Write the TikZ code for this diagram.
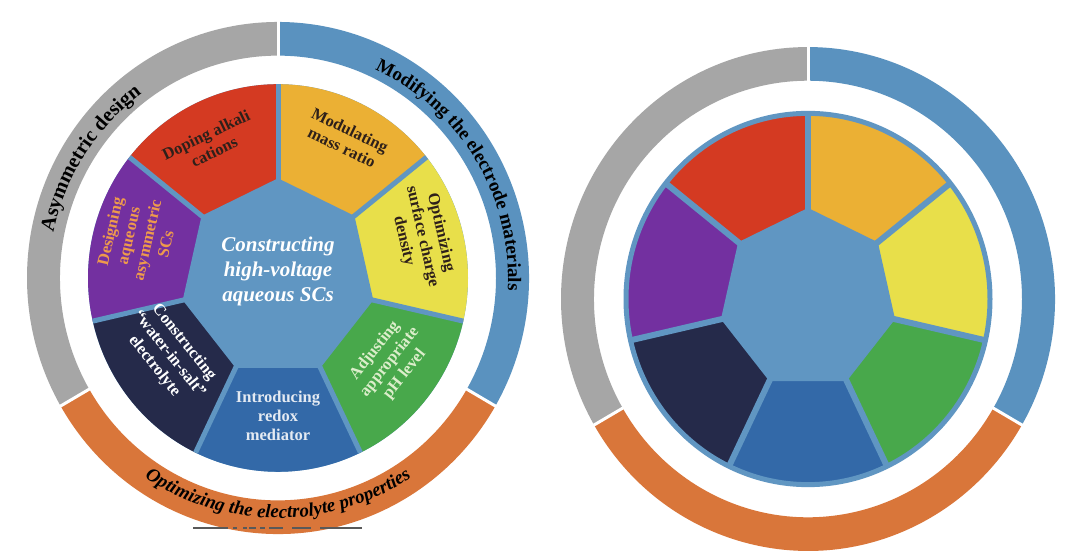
\documentclass[tikz,border=0pt]{standalone}
\usepackage{fontspec}
\setmainfont{Liberation Serif}
\usetikzlibrary{decorations.text}
\definecolor{ringgray}{HTML}{A6A6A6}
\definecolor{ringblue}{HTML}{5A92BF}
\definecolor{ringorange}{HTML}{D9763A}
\definecolor{hept}{HTML}{6096C2}
\definecolor{segred}{HTML}{D43A22}
\definecolor{segorange}{HTML}{EBB034}
\definecolor{segyellow}{HTML}{E8DF4A}
\definecolor{seggreen}{HTML}{48A84B}
\definecolor{segblue}{HTML}{3369A8}
\definecolor{segnavy}{HTML}{252A4A}
\definecolor{segpurple}{HTML}{7330A0}
\definecolor{txtdark}{HTML}{2E201A}
\definecolor{txtpale}{HTML}{E4EAF2}
\definecolor{txtgreen}{HTML}{DCEECB}
\definecolor{txtorange}{HTML}{EE9A4C}
\newcommand{\ringfont}{\fontsize{19}{19}\selectfont\bfseries}
\newcommand{\ringfontbig}{\fontsize{20.5}{20.5}\selectfont\bfseries}
\newcommand{\wheelshapes}[5]{%
  \pgfmathsetmacro\wRo{#1}\pgfmathsetmacro\wRi{#2}%
  \pgfmathsetmacro\wRd{#3}\pgfmathsetmacro\wRh{#4}%
  \pgfmathsetmacro\wRoo{#1+2}\pgfmathsetmacro\wRii{#2-2}%
  \fill[ringgray] (90:\wRo) arc[start angle=90,end angle=210,radius=\wRo] -- (210:\wRi) arc[start angle=210,end angle=90,radius=\wRi] -- cycle;
  \fill[ringorange] (210:\wRo) arc[start angle=210,end angle=330,radius=\wRo] -- (330:\wRi) arc[start angle=330,end angle=210,radius=\wRi] -- cycle;
  \fill[ringblue] (330:\wRo) arc[start angle=330,end angle=450,radius=\wRo] -- (450:\wRi) arc[start angle=450,end angle=330,radius=\wRi] -- cycle;
  \foreach \a in {90,210,330} \draw[white, line width=3] (\a:\wRii) -- (\a:\wRoo);
  \fill[hept] (0,0) circle[radius=\wRd];
  \foreach \k/\c in {0/segred,1/segpurple,2/segnavy,3/segblue,4/seggreen,5/segyellow,6/segorange}{
    \pgfmathsetmacro\aa{90+\k*360/7}
    \pgfmathsetmacro\ab{90+(\k+1)*360/7}
    \fill[\c] (\aa:\wRh) -- (\aa:\wRd) arc[start angle=\aa, end angle=\ab, radius=\wRd] -- (\ab:\wRh) -- cycle;
  }
  \foreach \k in {0,...,6}{
    \pgfmathsetmacro\aa{90+\k*360/7}
    \draw[hept, line width=#5] (\aa:\wRh) -- (\aa:\wRd);
  }
  \filldraw[fill=hept, draw=hept, line width=#5, line join=miter]
    (90:\wRh) -- ({90+360/7}:\wRh) -- ({90+2*360/7}:\wRh) -- ({90+3*360/7}:\wRh)
    -- ({90+4*360/7}:\wRh) -- ({90+5*360/7}:\wRh) -- ({90+6*360/7}:\wRh) -- cycle;
}
\tikzset{
  segtext/.style={align=center, inner sep=0pt, font=\fontsize{16.5}{19}\selectfont\bfseries},
  centertext/.style={align=center, inner sep=0pt, text=white, font=\fontsize{21}{25}\selectfont\bfseries\itshape},
  dashfrag/.style={draw=black!65, line width=1.1}
}
\begin{document}
\begin{tikzpicture}[x=1pt,y=1pt]
\useasboundingbox (0,0) rectangle (1080,559);
\fill[white] (0,0) rectangle (1080,559);
% left wheel
\begin{scope}[shift={(278,281)}, yscale=1.02]
  \wheelshapes{251}{218}{190}{95}{5}
\end{scope}
% right wheel
\begin{scope}[shift={(808,260)}, yscale=1.02]
  \wheelshapes{247}{214}{182}{86}{6}
  \draw[hept, line width=5] (0,0) circle[radius=182];
\end{scope}
% left texts
\begin{scope}[shift={(278,281)}]
  \node[centertext] (core) at (0,7) {Constructing\\high-voltage\\aqueous SCs};
  \node[segtext, text=txtdark, rotate=25.7] (tred) at (116.7:151) {Doping alkali\\cations};
  \node[segtext, text=txtdark, rotate=-25.7] (torange) at (64:155) {Modulating\\mass ratio};
  \node[segtext, text=txtdark, rotate=-77.1] (tyellow) at (16:150) {Optimizing\\surface charge\\density};
  \node[segtext, text=txtgreen, rotate=51.4] (tgreen) at (-37:140) {Adjusting\\appropriate\\pH level};
  \node[segtext, text=txtpale] (tblue) at (-90:138) {Introducing\\redox\\mediator};
  \node[segtext, text=white, rotate=-51.4] (tnavy) at (-145:133) {Constructing\\“water-in-salt”\\electrolyte};
  \node[segtext, text=txtorange, rotate=77.1] (tpurple) at (164:146) {Designing\\aqueous\\asymmetric\\SCs};
  \path[decorate, decoration={text along path, text align=center, text={|\ringfontbig|Asymmetric design}}]
    (190:229) arc[start angle=190, end angle=105, radius=229];
  \path[decorate, decoration={text along path, text align=center, text={|\ringfont|Modifying the electrode materials}}]
    (75:230) arc[start angle=75, end angle=-13, radius=230];
  \path[decorate, decoration={text along path, text align=center, text={|\ringfont\itshape|Optimizing the electrolyte properties}}]
    (-150:240) arc[start angle=-150, end angle=-30, radius=240];
\end{scope}
% cut-off fragment below left wheel
\draw[dashfrag] (193,31) -- (228,31) (233,31) -- (237,31) (243,31) -- (247,31)
  (249,31) -- (256,31) (260,31) -- (265,31) (269,31) -- (283,31)
  (292,31) -- (311,31) (320,31) -- (362,31);
\end{tikzpicture}
\end{document}
